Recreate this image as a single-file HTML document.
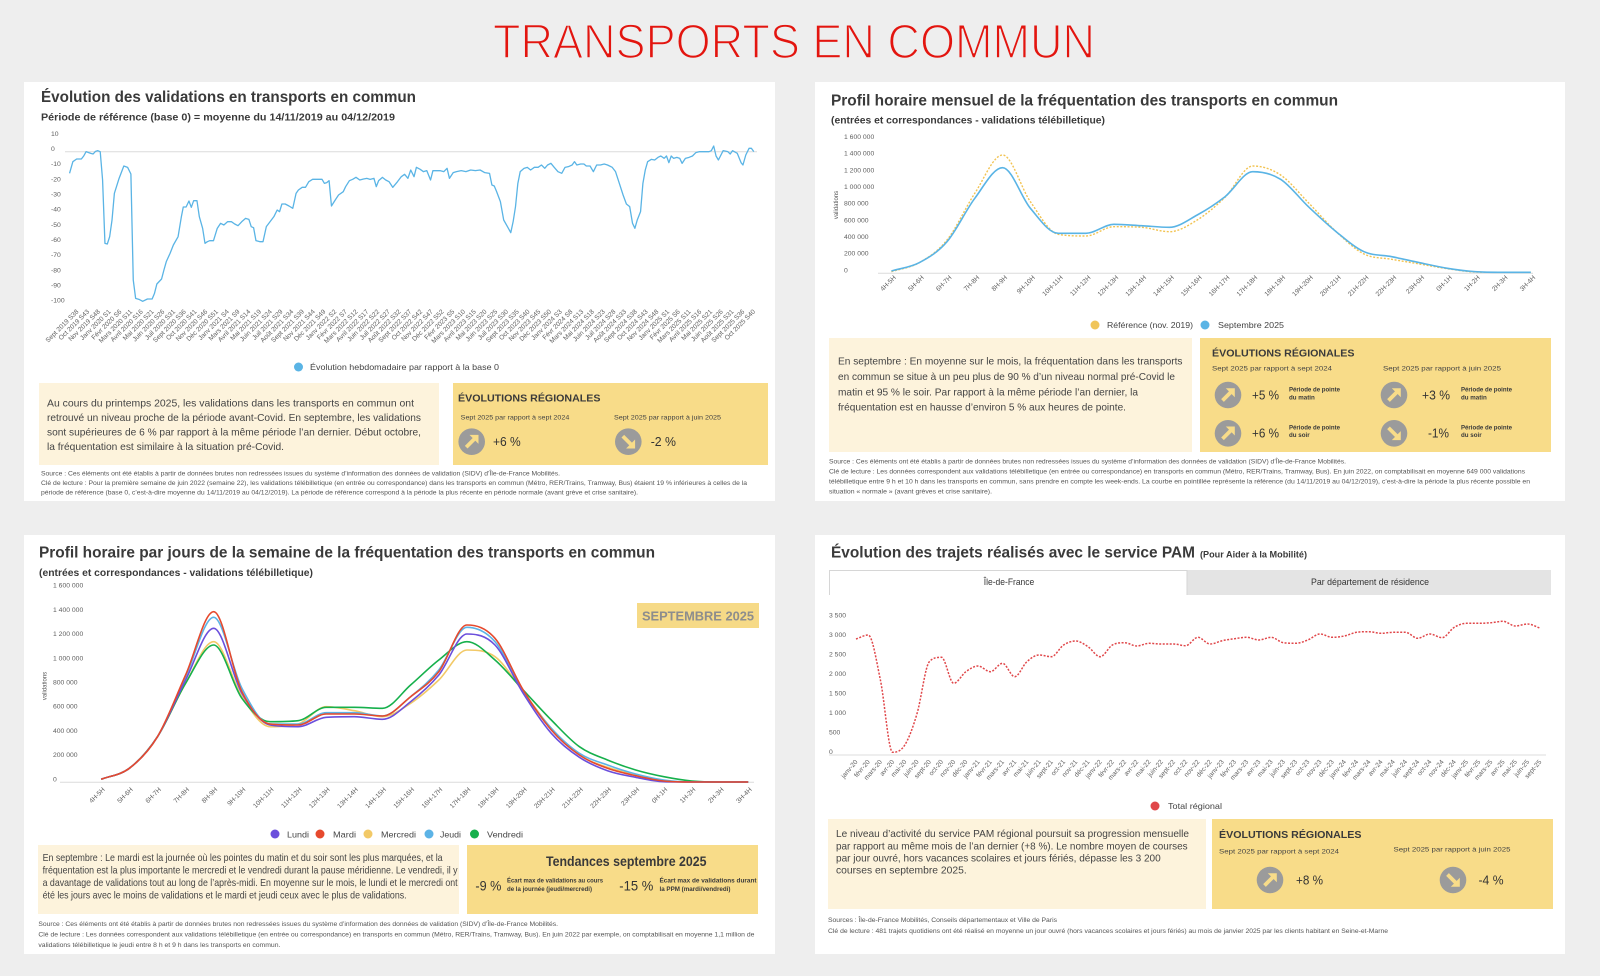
<!DOCTYPE html>
<html><head><meta charset="utf-8">
<style>
html,body{margin:0;padding:0;background:#eeeeee;}
svg{display:block;font-family:"Liberation Sans",Arial,sans-serif;}
.h{font-weight:bold;font-size:15.5px;fill:#3a3a3a}
.s{font-weight:bold;font-size:10.3px;fill:#3a3a3a}
.ax{font-size:6.8px;fill:#5f5f5f}
.xl{font-size:6.6px;fill:#5f5f5f;text-anchor:end}
.lg{font-size:8.5px;fill:#444}
.p{font-size:10.2px;fill:#444}
.f{font-size:6.4px;fill:#555}
.yt{font-weight:bold;font-size:10.5px;fill:#3a3a3a}
.sm7{font-size:6.8px;fill:#444}
.pc{font-size:12.5px;fill:#333}
.pp{font-weight:bold;font-size:6.2px;fill:#3a3a3a}
</style></head>
<body>
<svg width="1600" height="976" viewBox="0 0 1600 976" xmlns="http://www.w3.org/2000/svg">
<defs>
<g id="aup"><circle r="13.3" fill="#9b9b9b"/><line x1="-5.5" y1="5.5" x2="2.5" y2="-2.5" stroke="#f8dc89" stroke-width="3.8"/><polygon points="6.8,-6.8 -2.2,-6.8 6.8,2.2" fill="#f8dc89"/></g>
<g id="adn"><circle r="13.3" fill="#9b9b9b"/><line x1="-5.5" y1="-5.5" x2="2.5" y2="2.5" stroke="#f8dc89" stroke-width="3.8"/><polygon points="6.8,6.8 -2.2,6.8 6.8,-2.2" fill="#f8dc89"/></g>
</defs>
<rect width="1600" height="976" fill="#eeeeee"/>
<text x="493" y="58" font-size="48" fill="#e3150f" stroke="#eeeeee" stroke-width="1.6" textLength="602" lengthAdjust="spacingAndGlyphs">TRANSPORTS EN COMMUN</text>

<!-- panels -->
<rect x="24" y="82" width="751" height="419" fill="#fff"/>
<rect x="815" y="82" width="750" height="419" fill="#fff"/>
<rect x="24" y="535" width="751" height="419" fill="#fff"/>
<rect x="815" y="535" width="750" height="419" fill="#fff"/>

<!-- ============ TOP LEFT ============ -->
<text class="h" x="41" y="102" textLength="375" lengthAdjust="spacingAndGlyphs">Évolution des validations en transports en commun</text>
<text class="s" x="41" y="120.7" textLength="354" lengthAdjust="spacingAndGlyphs">Période de référence (base 0) = moyenne du 14/11/2019 au 04/12/2019</text>
<g class="ax">
<text x="51" y="135.8">10</text><text x="51" y="151">0</text><text x="51" y="166.2">-10</text><text x="51" y="181.3">-20</text><text x="51" y="196.5">-30</text><text x="51" y="211.7">-40</text><text x="51" y="226.8">-50</text><text x="51" y="242">-60</text><text x="51" y="257.2">-70</text><text x="51" y="272.3">-80</text><text x="51" y="287.5">-90</text><text x="51" y="302.7">-100</text>
</g>
<line x1="65" y1="151.7" x2="757" y2="151.7" stroke="#dcdcdc" stroke-width="1"/>
<g transform="translate(20 80) scale(0.4719 0.33333)">
<polyline fill="none" stroke="#5ab4e5" stroke-width="1.3" vector-effect="non-scaling-stroke" stroke-linejoin="round" points="105,280 112,245 120,237 130,237 135,228 140,215 150,220 155,222 160,214 165,212 170,215 175,300 180,490 185,492 190,470 195,420 200,340 210,295 220,258 228,262 235,282 240,600 245,655 252,658 260,664 270,657 280,657 285,640 290,612 300,597 305,570 310,545 318,520 325,495 335,470 342,410 346,381 352,381 358,363 363,382 368,362 375,362 380,410 387,445 392,490 397,485 402,482 410,482 418,445 425,430 432,435 440,425 448,425 455,432 462,437 470,425 478,415 485,418 490,440 495,443 500,482 508,485 515,485 522,440 530,425 538,410 545,390 550,395 555,372 562,372 570,378 578,385 585,340 590,330 598,322 605,322 612,305 620,298 630,298 640,298 645,310 650,308 655,302 660,378 668,360 675,345 685,335 690,320 698,302 705,298 712,292 720,300 728,297 735,295 742,298 750,295 755,320 760,302 768,292 775,300 782,305 790,322 800,305 808,290 815,283 822,295 828,270 835,290 840,262 848,268 855,275 862,272 870,300 875,272 882,272 890,272 898,275 905,265 910,295 918,278 925,275 935,272 945,275 955,270 965,272 975,270 985,278 995,280 1000,315 1005,318 1010,335 1018,365 1025,420 1033,440 1040,458 1045,425 1050,380 1055,310 1060,275 1068,265 1075,262 1082,270 1090,262 1098,262 1105,255 1112,265 1118,255 1125,250 1132,262 1140,275 1148,280 1155,262 1162,260 1170,255 1175,245 1180,255 1188,252 1195,252 1200,258 1208,258 1215,275 1222,255 1230,255 1238,252 1245,255 1255,262 1262,275 1270,310 1278,345 1285,372 1292,380 1298,430 1303,445 1308,420 1315,395 1320,310 1325,270 1330,245 1338,238 1345,240 1352,232 1358,228 1365,235 1370,228 1375,248 1380,228 1385,235 1392,232 1398,235 1403,250 1410,235 1418,232 1425,228 1432,218 1440,215 1450,215 1460,215 1465,212 1470,198 1475,228 1480,240 1490,212 1500,215 1505,222 1510,212 1520,220 1528,248 1532,255 1538,225 1545,205 1550,205 1555,215"/>
</g>
<g class="xl">
<text transform="translate(79 312) rotate(-45)">Sept 2019 S38</text>
<text transform="translate(89.7 312) rotate(-45)">Oct 2019 S43</text>
<text transform="translate(100.5 312) rotate(-45)">Nov 2019 S48</text>
<text transform="translate(111.2 312) rotate(-45)">Janv 2020 S1</text>
<text transform="translate(122 312) rotate(-45)">Févr 2020 S6</text>
<text transform="translate(132.7 312) rotate(-45)">Mars 2020 S11</text>
<text transform="translate(143.4 312) rotate(-45)">Avril 2020 S16</text>
<text transform="translate(154.2 312) rotate(-45)">Mai 2020 S21</text>
<text transform="translate(164.9 312) rotate(-45)">Juin 2020 S26</text>
<text transform="translate(175.7 312) rotate(-45)">Juil 2020 S31</text>
<text transform="translate(186.4 312) rotate(-45)">Sept 2020 S36</text>
<text transform="translate(197.1 312) rotate(-45)">Oct 2020 S41</text>
<text transform="translate(207.9 312) rotate(-45)">Nov 2020 S46</text>
<text transform="translate(218.6 312) rotate(-45)">Déc 2020 S51</text>
<text transform="translate(229.4 312) rotate(-45)">Janv 2021 S4</text>
<text transform="translate(240.1 312) rotate(-45)">Mars 2021 S9</text>
<text transform="translate(250.8 312) rotate(-45)">Avril 2021 S14</text>
<text transform="translate(261.6 312) rotate(-45)">Mai 2021 S19</text>
<text transform="translate(272.3 312) rotate(-45)">Juin 2021 S24</text>
<text transform="translate(283.1 312) rotate(-45)">Juil 2021 S29</text>
<text transform="translate(293.8 312) rotate(-45)">Août 2021 S34</text>
<text transform="translate(304.5 312) rotate(-45)">Sept 2021 S39</text>
<text transform="translate(315.3 312) rotate(-45)">Nov 2021 S44</text>
<text transform="translate(326 312) rotate(-45)">Déc 2021 S49</text>
<text transform="translate(336.8 312) rotate(-45)">Janv 2022 S2</text>
<text transform="translate(347.5 312) rotate(-45)">Févr 2022 S7</text>
<text transform="translate(358.2 312) rotate(-45)">Mars 2022 S12</text>
<text transform="translate(369 312) rotate(-45)">Avril 2022 S17</text>
<text transform="translate(379.7 312) rotate(-45)">Juin 2022 S22</text>
<text transform="translate(390.5 312) rotate(-45)">Juil 2022 S27</text>
<text transform="translate(401.2 312) rotate(-45)">Août 2022 S32</text>
<text transform="translate(411.9 312) rotate(-45)">Sept 2022 S37</text>
<text transform="translate(422.7 312) rotate(-45)">Oct 2022 S42</text>
<text transform="translate(433.4 312) rotate(-45)">Nov 2022 S47</text>
<text transform="translate(444.2 312) rotate(-45)">Déc 2022 S52</text>
<text transform="translate(454.9 312) rotate(-45)">Févr 2023 S5</text>
<text transform="translate(465.6 312) rotate(-45)">Mars 2023 S10</text>
<text transform="translate(476.4 312) rotate(-45)">Avril 2023 S15</text>
<text transform="translate(487.1 312) rotate(-45)">Mai 2023 S20</text>
<text transform="translate(497.9 312) rotate(-45)">Juin 2023 S25</text>
<text transform="translate(508.6 312) rotate(-45)">Juil 2023 S30</text>
<text transform="translate(519.3 312) rotate(-45)">Sept 2023 S35</text>
<text transform="translate(530.1 312) rotate(-45)">Oct 2023 S40</text>
<text transform="translate(540.8 312) rotate(-45)">Nov 2023 S45</text>
<text transform="translate(551.6 312) rotate(-45)">Déc 2023 S50</text>
<text transform="translate(562.3 312) rotate(-45)">Janv 2024 S3</text>
<text transform="translate(573 312) rotate(-45)">Févr 2024 S8</text>
<text transform="translate(583.8 312) rotate(-45)">Mars 2024 S13</text>
<text transform="translate(594.5 312) rotate(-45)">Mai 2024 S18</text>
<text transform="translate(605.3 312) rotate(-45)">Juin 2024 S23</text>
<text transform="translate(616 312) rotate(-45)">Juil 2024 S28</text>
<text transform="translate(626.7 312) rotate(-45)">Août 2024 S33</text>
<text transform="translate(637.5 312) rotate(-45)">Sept 2024 S38</text>
<text transform="translate(648.2 312) rotate(-45)">Oct 2024 S43</text>
<text transform="translate(659 312) rotate(-45)">Nov 2024 S48</text>
<text transform="translate(669.7 312) rotate(-45)">Janv 2025 S1</text>
<text transform="translate(680.4 312) rotate(-45)">Févr 2025 S6</text>
<text transform="translate(691.2 312) rotate(-45)">Mars 2025 S11</text>
<text transform="translate(701.9 312) rotate(-45)">Avril 2025 S16</text>
<text transform="translate(712.7 312) rotate(-45)">Mai 2025 S21</text>
<text transform="translate(723.4 312) rotate(-45)">Juin 2025 S26</text>
<text transform="translate(734.1 312) rotate(-45)">Août 2025 S31</text>
<text transform="translate(744.9 312) rotate(-45)">Sept 2025 S36</text>
<text transform="translate(755.6 312) rotate(-45)">Oct 2025 S40</text>
</g>
<circle cx="298.5" cy="367" r="4.5" fill="#5ab4e5"/>
<text class="lg" x="310" y="370" textLength="189" lengthAdjust="spacingAndGlyphs">Évolution hebdomadaire par rapport à la base 0</text>

<rect x="39" y="383" width="400" height="82" fill="#fdf3dc"/>
<g class="p">
<text x="47" y="406.5" textLength="367" lengthAdjust="spacingAndGlyphs">Au cours du printemps 2025, les validations dans les transports en commun ont</text>
<text x="47" y="421" textLength="374" lengthAdjust="spacingAndGlyphs">retrouvé un niveau proche de la période avant-Covid. En septembre, les validations</text>
<text x="47" y="435.5" textLength="374" lengthAdjust="spacingAndGlyphs">sont supérieures de 6 % par rapport à la même période l’an dernier. Début octobre,</text>
<text x="47" y="450" textLength="237" lengthAdjust="spacingAndGlyphs">la fréquentation est similaire à la situation pré-Covid.</text>
</g>
<rect x="453" y="383" width="315" height="82" fill="#f8dc89"/>
<text class="yt" x="458" y="401.7" textLength="142.5" lengthAdjust="spacingAndGlyphs">ÉVOLUTIONS RÉGIONALES</text>
<text class="sm7" x="460.7" y="419.3" textLength="108.6" lengthAdjust="spacingAndGlyphs">Sept 2025 par rapport à sept 2024</text>
<text class="sm7" x="614" y="419.3" textLength="107" lengthAdjust="spacingAndGlyphs">Sept 2025 par rapport à juin 2025</text>
<use href="#aup" x="471.7" y="441.7"/>
<text class="pc" x="493" y="446" textLength="27.7" lengthAdjust="spacingAndGlyphs">+6 %</text>
<use href="#adn" x="628.3" y="441.7"/>
<text class="pc" x="650.7" y="446" textLength="25.3" lengthAdjust="spacingAndGlyphs">-2 %</text>
<g class="f">
<text x="41" y="475.5" textLength="519" lengthAdjust="spacingAndGlyphs">Source : Ces éléments ont été établis à partir de données brutes non redressées issues du système d’information des données de validation (SIDV) d’Île-de-France Mobilités.</text>
<text x="41" y="485" textLength="706" lengthAdjust="spacingAndGlyphs">Clé de lecture : Pour la première semaine de juin 2022 (semaine 22), les validations télébilletique (en entrée ou correspondance) dans les transports en commun (Métro, RER/Trains, Tramway, Bus) étaient 19 % inférieures à celles de la</text>
<text x="41" y="494.3" textLength="597" lengthAdjust="spacingAndGlyphs">période de référence (base 0, c’est-à-dire moyenne du 14/11/2019 au 04/12/2019). La période de référence correspond à la période la plus récente en période normale (avant grève et crise sanitaire).</text>
</g>

<!-- ============ TOP RIGHT ============ -->
<text class="h" x="831" y="105.5" textLength="507" lengthAdjust="spacingAndGlyphs">Profil horaire mensuel de la fréquentation des transports en commun</text>
<text class="s" x="831" y="123.3" textLength="274" lengthAdjust="spacingAndGlyphs">(entrées et correspondances - validations télébilletique)</text>
<g class="ax" font-size="6.5">
<text x="844" y="139">1 600 000</text><text x="844" y="155.6">1 400 000</text><text x="844" y="172.3">1 200 000</text><text x="844" y="189">1 000 000</text><text x="844" y="205.6">800 000</text><text x="844" y="222.3">600 000</text><text x="844" y="239">400 000</text><text x="844" y="255.6">200 000</text><text x="844" y="272.3">0</text>
</g>
<text transform="translate(838 205) rotate(-90)" text-anchor="middle" font-size="6" fill="#555">validations</text>
<line x1="878" y1="273.3" x2="1533" y2="273.3" stroke="#dcdcdc" stroke-width="1"/>
<polyline class="sm" fill="none" stroke="#f2c351" stroke-width="1.4" stroke-dasharray="2 1.6" points="891.4,271.7 919.2,262.7 947,240 974.8,193.3 1002.6,155 1030.4,201.7 1058.2,234.3 1086,236 1113.8,226.7 1141.6,227.3 1169.4,231.7 1197.2,220 1225,197.3 1252.8,166 1280.6,175 1308.4,202.7 1336.2,231.7 1364,254 1391.8,259.3 1419.6,264 1447.4,268.7 1475.2,272 1503,272.3 1530.8,272.3"/>
<polyline class="sm" fill="none" stroke="#5ab4e5" stroke-width="1.6" points="891.4,271 919.2,262.7 947,241.7 974.8,198.3 1002.6,167.7 1030.4,208.3 1058.2,233.3 1086,233.3 1113.8,224.3 1141.6,225.7 1169.4,227.3 1197.2,215 1225,196.7 1252.8,171.7 1280.6,179.3 1308.4,206.7 1336.2,231.7 1364,251.7 1391.8,256.7 1419.6,262.7 1447.4,268.3 1475.2,271.7 1503,272.3 1530.8,272.3"/>
<g class="xl" font-size="6.8">
<text transform="translate(896.4 278) rotate(-45)">4H-5H</text>
<text transform="translate(924.2 278) rotate(-45)">5H-6H</text>
<text transform="translate(952 278) rotate(-45)">6H-7H</text>
<text transform="translate(979.8 278) rotate(-45)">7H-8H</text>
<text transform="translate(1007.6 278) rotate(-45)">8H-9H</text>
<text transform="translate(1035.4 278) rotate(-45)">9H-10H</text>
<text transform="translate(1063.2 278) rotate(-45)">10H-11H</text>
<text transform="translate(1091 278) rotate(-45)">11H-12H</text>
<text transform="translate(1118.8 278) rotate(-45)">12H-13H</text>
<text transform="translate(1146.6 278) rotate(-45)">13H-14H</text>
<text transform="translate(1174.4 278) rotate(-45)">14H-15H</text>
<text transform="translate(1202.2 278) rotate(-45)">15H-16H</text>
<text transform="translate(1230 278) rotate(-45)">16H-17H</text>
<text transform="translate(1257.8 278) rotate(-45)">17H-18H</text>
<text transform="translate(1285.6 278) rotate(-45)">18H-19H</text>
<text transform="translate(1313.4 278) rotate(-45)">19H-20H</text>
<text transform="translate(1341.2 278) rotate(-45)">20H-21H</text>
<text transform="translate(1369 278) rotate(-45)">21H-22H</text>
<text transform="translate(1396.8 278) rotate(-45)">22H-23H</text>
<text transform="translate(1424.6 278) rotate(-45)">23H-0H</text>
<text transform="translate(1452.4 278) rotate(-45)">0H-1H</text>
<text transform="translate(1480.2 278) rotate(-45)">1H-2H</text>
<text transform="translate(1508 278) rotate(-45)">2H-3H</text>
<text transform="translate(1535.8 278) rotate(-45)">3H-4H</text>
</g>
<circle cx="1095" cy="325" r="4.5" fill="#f0c55a"/>
<text class="lg" x="1107" y="328" textLength="86" lengthAdjust="spacingAndGlyphs">Référence (nov. 2019)</text>
<circle cx="1205" cy="325" r="4.5" fill="#5ab4e5"/>
<text class="lg" x="1218" y="328" textLength="66" lengthAdjust="spacingAndGlyphs">Septembre 2025</text>

<rect x="829" y="338" width="363" height="114" fill="#fdf3dc"/>
<g class="p">
<text x="838" y="364.5" textLength="344.5" lengthAdjust="spacingAndGlyphs">En septembre : En moyenne sur le mois, la fréquentation dans les transports</text>
<text x="838" y="380" textLength="337" lengthAdjust="spacingAndGlyphs">en commun se situe à un peu plus de 90 % d’un niveau normal pré-Covid le</text>
<text x="838" y="395.3" textLength="300" lengthAdjust="spacingAndGlyphs">matin et 95 % le soir. Par rapport à la même période l’an dernier, la</text>
<text x="838" y="410.5" textLength="288" lengthAdjust="spacingAndGlyphs">fréquentation est en hausse d’environ 5 % aux heures de pointe.</text>
</g>
<rect x="1200" y="338" width="351" height="114" fill="#f8dc89"/>
<text class="yt" x="1212" y="356.7" textLength="142.5" lengthAdjust="spacingAndGlyphs">ÉVOLUTIONS RÉGIONALES</text>
<text class="sm7" x="1212" y="370.5" textLength="120" lengthAdjust="spacingAndGlyphs">Sept 2025 par rapport à sept 2024</text>
<text class="sm7" x="1383" y="370.5" textLength="118" lengthAdjust="spacingAndGlyphs">Sept 2025 par rapport à juin 2025</text>
<use href="#aup" x="1228" y="395"/>
<text class="pc" x="1252" y="399.5" textLength="27" lengthAdjust="spacingAndGlyphs">+5 %</text>
<text class="pp" x="1289" y="391.7" textLength="51" lengthAdjust="spacingAndGlyphs">Période de pointe</text>
<text class="pp" x="1289" y="399.3">du matin</text>
<use href="#aup" x="1394" y="395"/>
<text class="pc" x="1422" y="399.5" textLength="28" lengthAdjust="spacingAndGlyphs">+3 %</text>
<text class="pp" x="1461" y="391.7" textLength="51" lengthAdjust="spacingAndGlyphs">Période de pointe</text>
<text class="pp" x="1461" y="399.3">du matin</text>
<use href="#aup" x="1228" y="433.3"/>
<text class="pc" x="1252" y="437.5" textLength="27" lengthAdjust="spacingAndGlyphs">+6 %</text>
<text class="pp" x="1289" y="429.3" textLength="51" lengthAdjust="spacingAndGlyphs">Période de pointe</text>
<text class="pp" x="1289" y="437">du soir</text>
<use href="#adn" x="1394" y="433.3"/>
<text class="pc" x="1428" y="437.5" textLength="21" lengthAdjust="spacingAndGlyphs">-1%</text>
<text class="pp" x="1461" y="429.3" textLength="51" lengthAdjust="spacingAndGlyphs">Période de pointe</text>
<text class="pp" x="1461" y="437">du soir</text>
<g class="f">
<text x="829" y="463.7" textLength="517" lengthAdjust="spacingAndGlyphs">Source : Ces éléments ont été établis à partir de données brutes non redressées issues du système d’information des données de validation (SIDV) d’Île-de-France Mobilités.</text>
<text x="829" y="473.7" textLength="696" lengthAdjust="spacingAndGlyphs">Clé de lecture : Les données correspondent aux validations télébilletique (en entrée ou correspondance) en transports en commun (Métro, RER/Trains, Tramway, Bus). En juin 2022, on comptabilisait en moyenne 649 000 validations</text>
<text x="829" y="483.7" textLength="701" lengthAdjust="spacingAndGlyphs">télébilletique entre 9 h et 10 h dans les transports en commun, sans prendre en compte les week-ends. La courbe en pointillée représente la référence (du 14/11/2019 au 04/12/2019), c’est-à-dire la période la plus récente possible en</text>
<text x="829" y="493.3" textLength="163" lengthAdjust="spacingAndGlyphs">situation « normale » (avant grèves et crise sanitaire).</text>
</g>

<!-- ============ BOTTOM LEFT ============ -->
<text class="h" x="39" y="557.3" textLength="616" lengthAdjust="spacingAndGlyphs">Profil horaire par jours de la semaine de la fréquentation des transports en commun</text>
<text class="s" x="39" y="576" textLength="274" lengthAdjust="spacingAndGlyphs">(entrées et correspondances - validations télébilletique)</text>
<g class="ax" font-size="6.5">
<text x="53" y="587.7">1 600 000</text><text x="53" y="611.9">1 400 000</text><text x="53" y="636.1">1 200 000</text><text x="53" y="660.3">1 000 000</text><text x="53" y="684.5">800 000</text><text x="53" y="708.7">600 000</text><text x="53" y="732.9">400 000</text><text x="53" y="757.1">200 000</text><text x="53" y="781.3">0</text>
</g>
<text transform="translate(46.5 686) rotate(-90)" text-anchor="middle" font-size="6" fill="#555">validations</text>
<line x1="60" y1="782.3" x2="754" y2="782.3" stroke="#dcdcdc" stroke-width="1"/>
<polyline class="sm" fill="none" stroke="#f2c967" stroke-width="1.6" points="101.2,779.3 129.3,768.3 157.5,736.7 185.6,683.3 213.7,641.7 241.9,696.7 270,726.7 298.1,724 326.2,706.7 354.4,710.7 382.5,716.7 410.6,703.3 438.8,680 466.9,650 495,656.7 523.2,691.7 551.3,728.3 579.4,755 607.5,767.3 635.7,775 663.8,780.7 691.9,782 720.1,782 748.2,782"/>
<polyline class="sm" fill="none" stroke="#16b04c" stroke-width="1.6" points="101.2,779.3 129.3,768.3 157.5,736.7 185.6,683.3 213.7,645 241.9,698.3 270,721.7 298.1,720.7 326.2,707.3 354.4,707.3 382.5,708.3 410.6,685 438.8,660 466.9,641.7 495,660 523.2,690 551.3,720 579.4,746.7 607.5,760 635.7,770 663.8,776.7 691.9,781 720.1,782 748.2,782"/>
<polyline class="sm" fill="none" stroke="#5cb3e6" stroke-width="1.6" points="101.2,779.3 129.3,768.3 157.5,736.7 185.6,676.7 213.7,617.3 241.9,688.3 270,724 298.1,724 326.2,712.7 354.4,712.7 382.5,716 410.6,696.7 438.8,670 466.9,627.3 495,641.7 523.2,691.7 551.3,728.3 579.4,753.3 607.5,765 635.7,774 663.8,780 691.9,782 720.1,782 748.2,782"/>
<polyline class="sm" fill="none" stroke="#6b4fdc" stroke-width="1.6" points="101.2,779.3 129.3,768.3 157.5,736.7 185.6,680 213.7,628.3 241.9,693.3 270,725 298.1,726.7 326.2,717.3 354.4,716.7 382.5,719.3 410.6,701.7 438.8,675 466.9,634 495,645 523.2,693.3 551.3,733.3 579.4,757.3 607.5,770.7 635.7,777.3 663.8,781.7 691.9,782 720.1,782 748.2,782"/>
<polyline class="sm" fill="none" stroke="#e6492d" stroke-width="1.6" points="101.2,779.3 129.3,768.3 157.5,736.7 185.6,675 213.7,611.7 241.9,691.7 270,724 298.1,725 326.2,714 354.4,714 382.5,716 410.6,696.7 438.8,671.7 466.9,625 495,638.3 523.2,690 551.3,730 579.4,755 607.5,768.3 635.7,775.7 663.8,781 691.9,782 720.1,782 748.2,782"/>
<rect x="637" y="603" width="122" height="25" fill="#f6da87"/>
<text x="642" y="620.3" font-size="12.5" font-weight="bold" fill="#8d8d8d" textLength="112" lengthAdjust="spacingAndGlyphs">SEPTEMBRE 2025</text>
<g class="xl" font-size="7">
<text transform="translate(105.2 790) rotate(-45)">4H-5H</text>
<text transform="translate(133.3 790) rotate(-45)">5H-6H</text>
<text transform="translate(161.5 790) rotate(-45)">6H-7H</text>
<text transform="translate(189.6 790) rotate(-45)">7H-8H</text>
<text transform="translate(217.7 790) rotate(-45)">8H-9H</text>
<text transform="translate(245.9 790) rotate(-45)">9H-10H</text>
<text transform="translate(274 790) rotate(-45)">10H-11H</text>
<text transform="translate(302.1 790) rotate(-45)">11H-12H</text>
<text transform="translate(330.2 790) rotate(-45)">12H-13H</text>
<text transform="translate(358.4 790) rotate(-45)">13H-14H</text>
<text transform="translate(386.5 790) rotate(-45)">14H-15H</text>
<text transform="translate(414.6 790) rotate(-45)">15H-16H</text>
<text transform="translate(442.8 790) rotate(-45)">16H-17H</text>
<text transform="translate(470.9 790) rotate(-45)">17H-18H</text>
<text transform="translate(499 790) rotate(-45)">18H-19H</text>
<text transform="translate(527.2 790) rotate(-45)">19H-20H</text>
<text transform="translate(555.3 790) rotate(-45)">20H-21H</text>
<text transform="translate(583.4 790) rotate(-45)">21H-22H</text>
<text transform="translate(611.5 790) rotate(-45)">22H-23H</text>
<text transform="translate(639.7 790) rotate(-45)">23H-0H</text>
<text transform="translate(667.8 790) rotate(-45)">0H-1H</text>
<text transform="translate(695.9 790) rotate(-45)">1H-2H</text>
<text transform="translate(724.1 790) rotate(-45)">2H-3H</text>
<text transform="translate(752.2 790) rotate(-45)">3H-4H</text>
</g>
<g class="lg" font-size="9">
<circle cx="275" cy="834" r="4.5" fill="#6b4fdc"/><text x="287" y="837.3" textLength="22" lengthAdjust="spacingAndGlyphs">Lundi</text>
<circle cx="320" cy="834" r="4.5" fill="#e6492d"/><text x="333" y="837.3" textLength="23" lengthAdjust="spacingAndGlyphs">Mardi</text>
<circle cx="368" cy="834" r="4.5" fill="#f2c967"/><text x="381" y="837.3" textLength="35" lengthAdjust="spacingAndGlyphs">Mercredi</text>
<circle cx="429" cy="834" r="4.5" fill="#5cb3e6"/><text x="440" y="837.3" textLength="21" lengthAdjust="spacingAndGlyphs">Jeudi</text>
<circle cx="474.5" cy="834" r="4.5" fill="#16b04c"/><text x="487" y="837.3" textLength="36" lengthAdjust="spacingAndGlyphs">Vendredi</text>
</g>
<rect x="38" y="845" width="421" height="69" fill="#fdf3dc"/>
<g class="p" font-size="9.8">
<text x="42.6" y="861" textLength="400" lengthAdjust="spacingAndGlyphs">En septembre : Le mardi est la journée où les pointes du matin et du soir sont les plus marquées, et la</text>
<text x="42.6" y="873.5" textLength="415" lengthAdjust="spacingAndGlyphs">fréquentation est la plus importante le mercredi et le vendredi durant la pause méridienne. Le vendredi, il y</text>
<text x="42.6" y="885.8" textLength="415" lengthAdjust="spacingAndGlyphs">a davantage de validations tout au long de l’après-midi. En moyenne sur le mois, le lundi et le mercredi ont</text>
<text x="42.6" y="898.5" textLength="364" lengthAdjust="spacingAndGlyphs">été les jours avec le moins de validations et le mardi et jeudi ceux avec le plus de validations.</text>
</g>
<rect x="467" y="845" width="291" height="69" fill="#f8dc89"/>
<text x="546" y="866" font-size="13.5" font-weight="bold" fill="#3a3a3a" textLength="160.5" lengthAdjust="spacingAndGlyphs">Tendances septembre 2025</text>
<text x="475.4" y="890.5" font-size="13.5" fill="#333" textLength="26" lengthAdjust="spacingAndGlyphs">-9 %</text>
<text class="pp" x="507" y="882.3" textLength="96" lengthAdjust="spacingAndGlyphs">Écart max de validations au cours</text>
<text class="pp" x="507" y="891" textLength="85" lengthAdjust="spacingAndGlyphs">de la journée (jeudi/mercredi)</text>
<text x="619.3" y="890.5" font-size="13.5" fill="#333" textLength="34" lengthAdjust="spacingAndGlyphs">-15 %</text>
<text class="pp" x="659.5" y="882.3" textLength="97" lengthAdjust="spacingAndGlyphs">Écart max de validations durant</text>
<text class="pp" x="659.5" y="891" textLength="71" lengthAdjust="spacingAndGlyphs">la PPM (mardi/vendredi)</text>
<g class="f">
<text x="38.4" y="926" textLength="519.6" lengthAdjust="spacingAndGlyphs">Source : Ces éléments ont été établis à partir de données brutes non redressées issues du système d’information des données de validation (SIDV) d’Île-de-France Mobilités.</text>
<text x="38.4" y="936.3" textLength="716" lengthAdjust="spacingAndGlyphs">Clé de lecture : Les données correspondent aux validations télébilletique (en entrée ou correspondance) en transports en commun (Métro, RER/Trains, Tramway, Bus). En juin 2022 par exemple, on comptabilisait en moyenne 1,1 million de</text>
<text x="38.4" y="947" textLength="242" lengthAdjust="spacingAndGlyphs">validations télébilletique le jeudi entre 8 h et 9 h dans les transports en commun.</text>
</g>

<!-- ============ BOTTOM RIGHT ============ -->
<text class="h" x="831" y="557.3" textLength="364" lengthAdjust="spacingAndGlyphs">Évolution des trajets réalisés avec le service PAM</text>
<text x="1200" y="557.3" font-size="9" font-weight="bold" fill="#3a3a3a" textLength="107" lengthAdjust="spacingAndGlyphs">(Pour Aider à la Mobilité)</text>
<rect x="1187" y="570" width="364" height="25" fill="#e4e4e4"/>
<path d="M829.5 595 V570.5 H1187 V595" fill="#fff" stroke="#d6d6d6" stroke-width="1"/>
<text x="1009" y="585" font-size="9.5" fill="#333" text-anchor="middle" textLength="50.5" lengthAdjust="spacingAndGlyphs">Île-de-France</text>
<text x="1370" y="585" font-size="9.5" fill="#333" text-anchor="middle" textLength="118" lengthAdjust="spacingAndGlyphs">Par département de résidence</text>
<g class="ax" font-size="6.5">
<text x="829" y="617.3">3 500</text><text x="829" y="636.8">3 000</text><text x="829" y="656.3">2 500</text><text x="829" y="675.9">2 000</text><text x="829" y="695.4">1 500</text><text x="829" y="714.9">1 000</text><text x="829" y="734.5">500</text><text x="829" y="754">0</text>
</g>
<line x1="829" y1="755" x2="1546" y2="755" stroke="#dcdcdc" stroke-width="1"/>
<polyline class="sm" fill="none" stroke="#e0474a" stroke-width="1.5" stroke-dasharray="2 1.5" points="856,639 868.2,635 880.4,680 892.6,752.3 904.8,745 917.1,713.3 929.3,661.7 941.5,657.3 953.7,683.3 965.9,671.7 978.1,666 990.3,671.7 1002.5,663.3 1014.7,676.7 1026.9,661.7 1039.2,655 1051.4,656.7 1063.6,645 1075.8,641 1088,646.7 1100.2,656.7 1112.4,645 1124.6,642.7 1136.8,646 1149,643.3 1161.3,644 1173.5,644 1185.7,645.7 1197.9,637.3 1210.1,644 1222.3,640.7 1234.5,638.7 1246.7,637.3 1258.9,640 1271.1,637.3 1283.4,642.7 1295.6,643.3 1307.8,640 1320,634 1332.2,637.3 1344.4,636 1356.6,632.3 1368.8,631.7 1381,633.3 1393.2,632.3 1405.5,632.3 1417.7,638.3 1429.9,634 1442.1,637.7 1454.3,627.3 1466.5,623.3 1478.7,623.3 1490.9,622.7 1503.1,621.3 1515.3,626 1527.6,624 1539.8,628"/>
<g class="xl" font-size="6.4">
<text transform="translate(858 762) rotate(-50)">janv-20</text>
<text transform="translate(870.2 762) rotate(-50)">févr-20</text>
<text transform="translate(882.4 762) rotate(-50)">mars-20</text>
<text transform="translate(894.6 762) rotate(-50)">avr-20</text>
<text transform="translate(906.8 762) rotate(-50)">mai-20</text>
<text transform="translate(919.1 762) rotate(-50)">juin-20</text>
<text transform="translate(931.3 762) rotate(-50)">sept-20</text>
<text transform="translate(943.5 762) rotate(-50)">oct-20</text>
<text transform="translate(955.7 762) rotate(-50)">nov-20</text>
<text transform="translate(967.9 762) rotate(-50)">déc-20</text>
<text transform="translate(980.1 762) rotate(-50)">janv-21</text>
<text transform="translate(992.3 762) rotate(-50)">févr-21</text>
<text transform="translate(1004.5 762) rotate(-50)">mars-21</text>
<text transform="translate(1016.7 762) rotate(-50)">avr-21</text>
<text transform="translate(1028.9 762) rotate(-50)">mai-21</text>
<text transform="translate(1041.2 762) rotate(-50)">juin-21</text>
<text transform="translate(1053.4 762) rotate(-50)">sept-21</text>
<text transform="translate(1065.6 762) rotate(-50)">oct-21</text>
<text transform="translate(1077.8 762) rotate(-50)">nov-21</text>
<text transform="translate(1090 762) rotate(-50)">déc-21</text>
<text transform="translate(1102.2 762) rotate(-50)">janv-22</text>
<text transform="translate(1114.4 762) rotate(-50)">févr-22</text>
<text transform="translate(1126.6 762) rotate(-50)">mars-22</text>
<text transform="translate(1138.8 762) rotate(-50)">avr-22</text>
<text transform="translate(1151 762) rotate(-50)">mai-22</text>
<text transform="translate(1163.3 762) rotate(-50)">juin-22</text>
<text transform="translate(1175.5 762) rotate(-50)">sept-22</text>
<text transform="translate(1187.7 762) rotate(-50)">oct-22</text>
<text transform="translate(1199.9 762) rotate(-50)">nov-22</text>
<text transform="translate(1212.1 762) rotate(-50)">déc-22</text>
<text transform="translate(1224.3 762) rotate(-50)">janv-23</text>
<text transform="translate(1236.5 762) rotate(-50)">févr-23</text>
<text transform="translate(1248.7 762) rotate(-50)">mars-23</text>
<text transform="translate(1260.9 762) rotate(-50)">avr-23</text>
<text transform="translate(1273.1 762) rotate(-50)">mai-23</text>
<text transform="translate(1285.4 762) rotate(-50)">juin-23</text>
<text transform="translate(1297.6 762) rotate(-50)">sept-23</text>
<text transform="translate(1309.8 762) rotate(-50)">oct-23</text>
<text transform="translate(1322 762) rotate(-50)">nov-23</text>
<text transform="translate(1334.2 762) rotate(-50)">déc-23</text>
<text transform="translate(1346.4 762) rotate(-50)">janv-24</text>
<text transform="translate(1358.6 762) rotate(-50)">févr-24</text>
<text transform="translate(1370.8 762) rotate(-50)">mars-24</text>
<text transform="translate(1383 762) rotate(-50)">avr-24</text>
<text transform="translate(1395.2 762) rotate(-50)">mai-24</text>
<text transform="translate(1407.5 762) rotate(-50)">juin-24</text>
<text transform="translate(1419.7 762) rotate(-50)">sept-24</text>
<text transform="translate(1431.9 762) rotate(-50)">oct-24</text>
<text transform="translate(1444.1 762) rotate(-50)">nov-24</text>
<text transform="translate(1456.3 762) rotate(-50)">déc-24</text>
<text transform="translate(1468.5 762) rotate(-50)">janv-25</text>
<text transform="translate(1480.7 762) rotate(-50)">févr-25</text>
<text transform="translate(1492.9 762) rotate(-50)">mars-25</text>
<text transform="translate(1505.1 762) rotate(-50)">avr-25</text>
<text transform="translate(1517.3 762) rotate(-50)">mai-25</text>
<text transform="translate(1529.6 762) rotate(-50)">juin-25</text>
<text transform="translate(1541.8 762) rotate(-50)">sept-25</text>
</g>
<circle cx="1155" cy="806" r="4.5" fill="#e0474a"/>
<text class="lg" x="1168" y="809" textLength="54" lengthAdjust="spacingAndGlyphs">Total régional</text>
<rect x="828" y="819" width="378" height="90" fill="#fdf3dc"/>
<g class="p">
<text x="836" y="837" textLength="353" lengthAdjust="spacingAndGlyphs">Le niveau d’activité du service PAM régional poursuit sa progression mensuelle</text>
<text x="836" y="849.5" textLength="351.6" lengthAdjust="spacingAndGlyphs">par rapport au même mois de l’an dernier (+8 %). Le nombre moyen de courses</text>
<text x="836" y="861.5" textLength="324.7" lengthAdjust="spacingAndGlyphs">par jour ouvré, hors vacances scolaires et jours fériés, dépasse les 3 200</text>
<text x="836" y="873.5" textLength="130.7" lengthAdjust="spacingAndGlyphs">courses en septembre 2025.</text>
</g>
<rect x="1212" y="819" width="341" height="90" fill="#f8dc89"/>
<text class="yt" x="1219" y="838" textLength="142.5" lengthAdjust="spacingAndGlyphs">ÉVOLUTIONS RÉGIONALES</text>
<text class="sm7" x="1219" y="853.3" textLength="120" lengthAdjust="spacingAndGlyphs">Sept 2025 par rapport à sept 2024</text>
<text class="sm7" x="1393.5" y="851.7" textLength="117" lengthAdjust="spacingAndGlyphs">Sept 2025 par rapport à juin 2025</text>
<use href="#aup" x="1270" y="880"/>
<text class="pc" x="1296" y="884.5" textLength="27" lengthAdjust="spacingAndGlyphs">+8 %</text>
<use href="#adn" x="1453" y="880"/>
<text class="pc" x="1478.5" y="884.5" textLength="25" lengthAdjust="spacingAndGlyphs">-4 %</text>
<g class="f">
<text x="828" y="922" textLength="229" lengthAdjust="spacingAndGlyphs">Sources : Île-de-France Mobilités, Conseils départementaux et Ville de Paris</text>
<text x="828" y="933" textLength="560" lengthAdjust="spacingAndGlyphs">Clé de lecture : 481 trajets quotidiens ont été réalisé en moyenne un jour ouvré (hors vacances scolaires et jours fériés) au mois de janvier 2025 par les clients habitant en Seine-et-Marne</text>
</g>
</svg>
<script>
(function(){
var NS='http://www.w3.org/2000/svg';
var list=document.querySelectorAll('polyline.sm');
for(var q=0;q<list.length;q++){
 var pl=list[q];
 var a=pl.getAttribute('points').trim().split(/[\s,]+/).map(Number),p=[],i;
 for(i=0;i+1<a.length;i+=2)p.push([a[i],a[i+1]]);
 var n=p.length,m=[],t=[];
 for(i=0;i<n-1;i++)m.push((p[i+1][1]-p[i][1])/(p[i+1][0]-p[i][0]));
 t[0]=m[0];t[n-1]=m[n-2];
 for(i=1;i<n-1;i++)t[i]=(m[i-1]*m[i]<=0)?0:(m[i-1]+m[i])/2;
 for(i=0;i<n-1;i++){
  if(m[i]===0){t[i]=0;t[i+1]=0;continue;}
  var al=t[i]/m[i],be=t[i+1]/m[i],s=al*al+be*be;
  if(s>9){var tau=3/Math.sqrt(s);t[i]=tau*al*m[i];t[i+1]=tau*be*m[i];}
 }
 var d='M'+p[0][0]+','+p[0][1];
 for(i=0;i<n-1;i++){
  var h=(p[i+1][0]-p[i][0])/3;
  d+='C'+(p[i][0]+h).toFixed(2)+','+(p[i][1]+t[i]*h).toFixed(2)+','+(p[i+1][0]-h).toFixed(2)+','+(p[i+1][1]-t[i+1]*h).toFixed(2)+','+p[i+1][0]+','+p[i+1][1];
 }
 var path=document.createElementNS(NS,'path');
 ['stroke','stroke-width','stroke-dasharray','fill'].forEach(function(k){var v=pl.getAttribute(k);if(v)path.setAttribute(k,v);});
 path.setAttribute('d',d);
 pl.parentNode.replaceChild(path,pl);
}
})();
</script>
</body></html>
